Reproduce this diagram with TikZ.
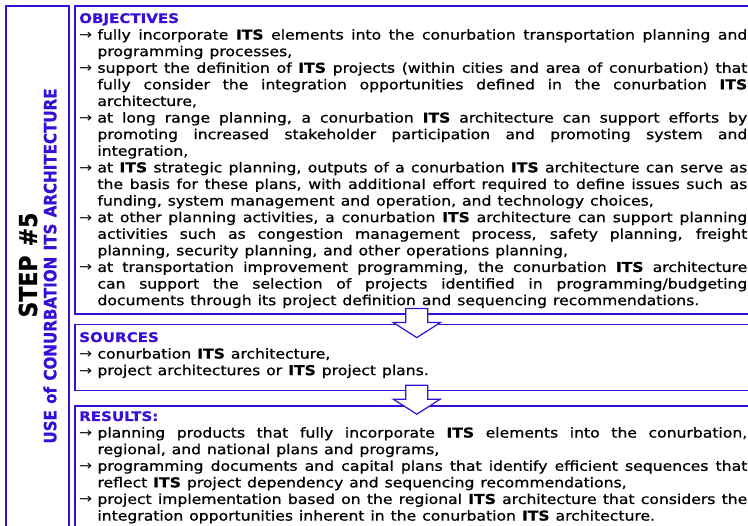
\documentclass[tikz,border=0pt]{standalone}
\usepackage{fontspec}
\newfontfamily\verd[WordSpace=1.2, FakeBold=0.8]{DejaVu Sans}
\newfontfamily\thinverd{DejaVu Sans}
\usetikzlibrary{positioning}
\definecolor{stepblue}{RGB}{55,15,215}

% one text line is 16pt of arrow plus \bodyw of text
\newlength{\bodyw}
\setlength{\bodyw}{570pt}
\newcommand{\its}{{\bfseries ITS}}
\newcommand{\itm}{\makebox[16pt][l]{\thinverd →}}
\newcommand{\firstj}[1]{\hbox{\itm\makebox[\bodyw][s]{#1}}}
\newcommand{\firstr}[1]{\hbox{\itm #1}}
\newcommand{\contj}[1]{\hbox{\hspace*{16pt}\makebox[\bodyw][s]{#1}}}
\newcommand{\contr}[1]{\hbox{\hspace*{16pt}#1}}
\newcommand{\heading}[1]{\hbox{\color{stepblue}\bfseries\fontsize{13.2}{16.6}\selectfont #1}}

\tikzstyle{sidebox} = [rectangle, draw=stepblue, line width=1.6pt, minimum width=63pt, minimum height=525pt, inner sep=0pt]
\tikzstyle{panel} = [rectangle, draw=stepblue, line width=1.6pt, minimum width=684pt, inner sep=0pt]
\tikzstyle{bodytext} = [anchor=base west, inner sep=0pt, xscale=1.14, font=\verd\fontsize{13.7}{16.6}\selectfont]
\tikzstyle{steplabel} = [xscale=1.12, rotate=90, inner sep=0pt, font=\verd\bfseries\fontsize{22}{22}\selectfont]
\tikzstyle{uselabel} = [xscale=1.12, rotate=90, inner sep=0pt, text=stepblue, font=\verd\bfseries\fontsize{15.1}{15}\selectfont]
\tikzstyle{blockarrow} = [draw=stepblue, line width=1.2pt, fill=white, line join=miter]

\begin{document}
\begin{tikzpicture}[x=1pt, y=1pt]
	\useasboundingbox (0,0) rectangle (748,526);
	\clip (0,0) rectangle (748,526);
	% frames
	\node (side) [sidebox, anchor=north west] at (5,521) {};
	\node (obj) [panel, minimum height=308pt, anchor=north west] at (74,521) {};
	\node (src) [panel, minimum height=66pt, below=9pt of obj] {};
	\node (res) [panel, minimum height=127pt, below=14pt of src] {};
	% side labels
	\node (steplbl) [steplabel] at (28,261) {STEP \#5};
	\node (uselbl) [uselabel] at (50,260) {USE of CONURBATION ITS ARCHITECTURE};
	% panel texts
	\node (objtext) [bodytext] at (79,503) {\vtop{
		\heading{OBJECTIVES}
		\firstj{fully incorporate \its{} elements into the conurbation transportation planning and}
		\contr{programming processes,}
		\firstj{support the definition of \its{} projects (within cities and area of conurbation) that}
		\contj{fully consider the integration opportunities defined in the conurbation \its}
		\contr{architecture,}
		\firstj{at long range planning, a conurbation \its{} architecture can support efforts by}
		\contj{promoting increased stakeholder participation and promoting system and}
		\contr{integration,}
		\firstj{at \its{} strategic planning, outputs of a conurbation \its{} architecture can serve as}
		\contj{the basis for these plans, with additional effort required to define issues such as}
		\contr{funding, system management and operation, and technology choices,}
		\firstj{at other planning activities, a conurbation \its{} architecture can support planning}
		\contj{activities such as congestion management process, safety planning, freight}
		\contr{planning, security planning, and other operations planning,}
		\firstj{at transportation improvement programming, the conurbation \its{} architecture}
		\contj{can support the selection of projects identified in programming/budgeting}
		\contr{documents through its project definition and sequencing recommendations.}
	}};
	\node (srctext) [bodytext] at (79,184) {\vtop{
		\heading{SOURCES}
		\firstr{conurbation \its{} architecture,}
		\firstr{project architectures or \its{} project plans.}
	}};
	\node (restext) [bodytext] at (79,105) {\vtop{
		\heading{RESULTS:}
		\firstj{planning products that fully incorporate \its{} elements into the conurbation,}
		\contr{regional, and national plans and programs,}
		\firstj{programming documents and capital plans that identify efficient sequences that}
		\contr{reflect \its{} project dependency and sequencing recommendations,}
		\firstj{project implementation based on the regional \its{} architecture that considers the}
		\contr{integration opportunities inherent in the conurbation \its{} architecture.}
	}};
	% block arrows between the panels
	\draw [blockarrow] ([shift={(-11,6)}]obj.south) -- ++(22,0) -- ++(0,-14) -- ++(12.5,0) -- ++(-23.5,-15) -- ++(-23.5,15) -- ++(12.5,0) -- cycle;
	\draw [blockarrow] ([shift={(-11,6)}]src.south) -- ++(22,0) -- ++(0,-14) -- ++(12.5,0) -- ++(-23.5,-15) -- ++(-23.5,15) -- ++(12.5,0) -- cycle;
\end{tikzpicture}
\end{document}
